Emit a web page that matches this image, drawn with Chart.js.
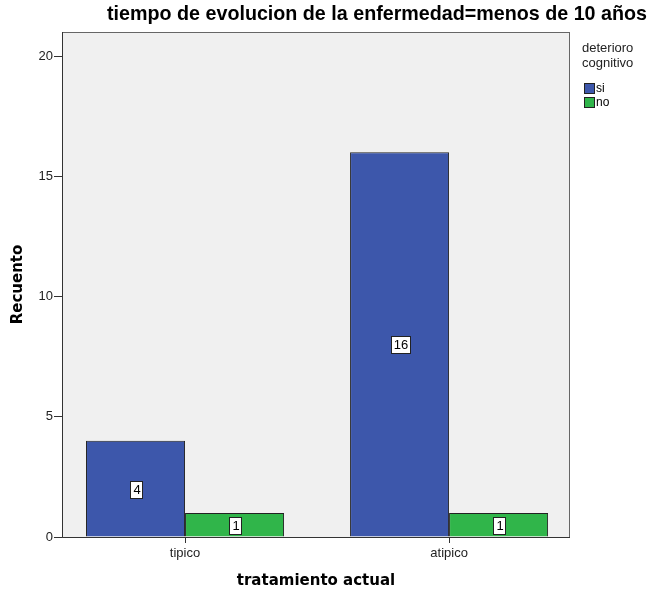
<!DOCTYPE html>
<html>
<head>
<meta charset="utf-8">
<script src="https://cdn.jsdelivr.net/npm/chart.js@4.4.1/dist/chart.umd.min.js"></script>
<style>
  html, body { margin: 0; padding: 0; background: #fff; }
</style>
</head>
<body>
<canvas id="grafico" width="650" height="595"></canvas>
<script>
// datos
const categorias = ['tipico', 'atipico'];
const serieSi = [4, 16];
const serieNo = [1, 1];
const yTicks = [0, 5, 10, 15, 20];
const leyendaTitulo = ['deterioro', 'cognitivo'];
const leyendaItems = ['si', 'no'];
const titulo = 'tiempo de evolucion de la enfermedad=menos de 10 años';

const colores = ['#3d57ab', '#30b54a'];
const fuente = '"Liberation Sans", Arial, sans-serif';

// fondo gris del area de trazado
const fondoPlugin = {
  id: 'fondo',
  beforeDraw(chart) {
    const { ctx, chartArea: a } = chart;
    ctx.save();
    ctx.fillStyle = '#fff';
    ctx.fillRect(0, 0, chart.width, chart.height);
    ctx.fillStyle = '#f0f0f0';
    ctx.fillRect(a.left, a.top, a.right - a.left, a.bottom - a.top);
    ctx.restore();
  }
};

// cajas con el valor en el centro de cada barra
const etiquetasPlugin = {
  id: 'etiquetas',
  afterDatasetsDraw(chart) {
    const { ctx } = chart;
    ctx.save();
    ctx.font = '13px ' + fuente;
    ctx.textAlign = 'center';
    ctx.textBaseline = 'middle';
    chart.data.datasets.forEach((ds, i) => {
      chart.getDatasetMeta(i).data.forEach((bar, j) => {
        const txt = String(ds.data[j].y);
        const w = Math.round(ctx.measureText(txt).width + 5);
        const h = 17;
        const cx = Math.round(bar.x);
        const cy = Math.round((bar.y + bar.base) / 2);
        const x0 = Math.round(cx - w / 2);
        const y0 = Math.round(cy - h / 2);
        ctx.fillStyle = '#fff';
        ctx.fillRect(x0, y0, w, h);
        ctx.strokeStyle = '#222';
        ctx.lineWidth = 1;
        ctx.strokeRect(x0 + 0.5, y0 + 0.5, w, h);
        ctx.fillStyle = '#000';
        ctx.fillText(txt, cx + 1, cy + 1);
      });
    });
    ctx.restore();
  }
};

// marco, titulo y leyenda
const decoracionPlugin = {
  id: 'decoracion',
  afterDraw(chart) {
    const { ctx, chartArea: a } = chart;
    ctx.save();
    ctx.strokeStyle = '#666';
    ctx.lineWidth = 1;
    ctx.strokeRect(a.left + 0.5, a.top + 0.5, a.right - a.left - 1, a.bottom - a.top);
    ctx.strokeStyle = '#333';
    ctx.beginPath();
    ctx.moveTo(a.left + 0.5, a.top);
    ctx.lineTo(a.left + 0.5, a.bottom + 0.5);
    ctx.lineTo(a.right, a.bottom + 0.5);
    ctx.stroke();

    ctx.fillStyle = '#000';
    ctx.font = 'bold 19.7px ' + fuente;
    ctx.textAlign = 'center';
    ctx.textBaseline = 'middle';
    ctx.fillText(titulo, 377, 15);

    ctx.font = '13px ' + fuente;
    ctx.textAlign = 'left';
    ctx.fillStyle = '#222';
    leyendaTitulo.forEach((t, i) => ctx.fillText(t, 582, 48 + i * 15));
    ctx.font = '12px ' + fuente;
    leyendaItems.forEach((t, i) => {
      const y = 88 + i * 14;
      ctx.fillStyle = colores[i];
      ctx.fillRect(584, y - 5, 10, 10);
      ctx.strokeStyle = '#222';
      ctx.strokeRect(584.5, y - 4.5, 10, 10);
      ctx.fillStyle = '#000';
      ctx.fillText(t, 596, y + 1);
    });
    ctx.restore();
  }
};

new Chart(document.getElementById('grafico'), {
  type: 'bar',
  data: {
    datasets: [
      { label: leyendaItems[0], data: serieSi.map((v, i) => ({ x: i, y: v })), backgroundColor: colores[0] },
      { label: leyendaItems[1], data: serieNo.map((v, i) => ({ x: i, y: v })), backgroundColor: colores[1] }
    ]
  },
  options: {
    responsive: false,
    animation: false,
    devicePixelRatio: 1,
    layout: { padding: { top: 32, right: 80, left: 0, bottom: 0 } },
    datasets: {
      bar: {
        categoryPercentage: 0.75,
        barPercentage: 1,
        borderColor: '#222',
        borderWidth: 1
      }
    },
    plugins: {
      legend: { display: false },
      title: { display: false },
      tooltip: { enabled: false }
    },
    scales: {
      x: {
        type: 'linear',
        min: -0.466,
        max: 1.458,
        offset: false,
        afterFit: (s) => { s.height = 58; },
        afterBuildTicks: (s) => { s.ticks = categorias.map((c, i) => ({ value: i })); },
        grid: { offset: false, drawOnChartArea: false, drawTicks: true, tickLength: 6, color: '#333' },
        border: { display: false },
        ticks: {
          padding: 3,
          color: '#222',
          font: { family: fuente, size: 13 },
          callback: (v) => categorias[v]
        },
        title: {
          display: true,
          text: 'tratamiento actual',
          color: '#000',
          font: { family: 'DejaVu Sans', size: 15, weight: 'bold' },
          padding: { top: 0, bottom: 5 }
        }
      },
      y: {
        min: 0,
        max: 21,
        afterFit: (s) => { s.width = 62; },
        afterBuildTicks: (s) => { s.ticks = yTicks.map(v => ({ value: v })); },
        grid: { drawOnChartArea: false, drawTicks: true, tickLength: 8, color: '#333' },
        border: { display: false },
        ticks: { padding: 1, color: '#222', font: { family: fuente, size: 13 } },
        title: {
          display: true,
          text: 'Recuento',
          color: '#000',
          font: { family: 'DejaVu Sans', size: 15, weight: 'bold' },
          padding: { top: 9, bottom: 0 }
        }
      }
    }
  },
  plugins: [fondoPlugin, etiquetasPlugin, decoracionPlugin]
});
</script>
</body>
</html>
